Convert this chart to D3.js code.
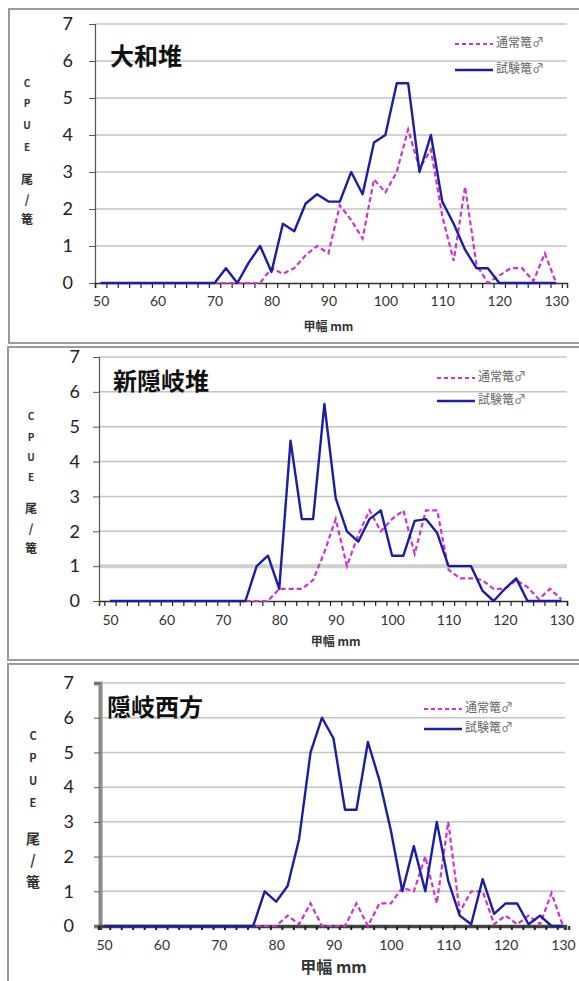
<!DOCTYPE html>
<html>
<head>
<meta charset="utf-8">
<script src="https://cdn.jsdelivr.net/npm/d3@7"></script>
<style>
  body { margin: 0; background: #fff; }
  svg { display: block; }
</style>
</head>
<body>
<script>
let width = 579;
let height = 981;

// carapace width classes (mm)
const sizes = [50, 52, 54, 56, 58, 60, 62, 64, 66, 68, 70, 72, 74, 76, 78, 80, 82, 84, 86, 88, 90,
  92, 94, 96, 98, 100, 102, 104, 106, 108, 110, 112, 114, 116, 118, 120, 122, 124, 126, 128, 130];
const xTickLabels = [50, 60, 70, 80, 90, 100, 110, 120, 130];
const yTickLabels = [0, 1, 2, 3, 4, 5, 6, 7];
const seriesNames = ["通常篭♂", "試験篭♂"];
const panelTitles = ["大和堆", "新隠岐堆", "隠岐西方"];

// 大和堆
const yamatoNormal = [0, 0, 0, 0, 0, 0, 0, 0, 0, 0, 0, 0, 0, 0, 0,
  0.4, 0.25, 0.4, 0.75, 1.0, 0.8, 2.1, 1.7, 1.2, 2.8, 2.45, 3.0, 4.15, 3.1, 3.6,
  1.8, 0.6, 2.6, 0.5, 0, 0.2, 0.4, 0.4, 0.05, 0.8, 0];
const yamatoTrial = [0, 0, 0, 0, 0, 0, 0, 0, 0, 0, 0,
  0.4, 0, 0.55, 1.0, 0.3, 1.6, 1.4, 2.15, 2.4, 2.2, 2.2, 3.0, 2.4, 3.8, 4.0, 5.4, 5.4,
  3.0, 4.0, 2.2, 1.6, 0.9, 0.4, 0.4, 0, 0, 0, 0, 0, 0];

// 新隠岐堆
const shinOkiNormal = [0, 0, 0, 0, 0, 0, 0, 0, 0, 0, 0, 0, 0, 0, 0,
  0.35, 0.35, 0.35, 0.6, 1.4, 2.35, 1.0, 1.9, 2.6, 2.0, 2.35, 2.6, 1.35, 2.6, 2.6,
  0.9, 0.65, 0.65, 0.6, 0.35, 0.35, 0.6, 0.4, 0.05, 0.35, 0.05];
const shinOkiTrial = [0, 0, 0, 0, 0, 0, 0, 0, 0, 0, 0, 0, 0,
  1.0, 1.3, 0.35, 4.6, 2.35, 2.35, 5.65, 2.95, 2.0, 1.7, 2.35, 2.6, 1.3, 1.3, 2.3,
  2.35, 1.95, 1.0, 1.0, 1.0, 0.3, 0, 0.35, 0.65, 0, 0, 0, 0];

// 隠岐西方
const okiWestNormal = [0, 0, 0, 0, 0, 0, 0, 0, 0, 0, 0, 0, 0, 0, 0, 0,
  0.3, 0.05, 0.65, 0, 0, 0, 0.65, 0, 0.65, 0.65, 1.1, 1.0, 2.0, 0.65, 3.0,
  0.4, 1.0, 1.0, 0.05, 0.3, 0.05, 0.3, 0.05, 0.95, 0];
const okiWestTrial = [0, 0, 0, 0, 0, 0, 0, 0, 0, 0, 0, 0, 0, 0,
  1.0, 0.7, 1.15, 2.5, 5.0, 6.0, 5.4, 3.35, 3.35, 5.3, 4.2, 2.75, 1.0, 2.3, 1.0,
  3.0, 1.3, 0.3, 0.05, 1.35, 0.35, 0.65, 0.65, 0.05, 0.3, 0, 0];

const normalColor = "#cc33cc";
const trialColor = "#1c1ca6";

// layout of the three pasted panels
const panels = [
  {
    title: panelTitles[0], normal: yamatoNormal, trial: yamatoTrial,
    frame: [9, 9, 600, 334],
    left: 95, right: 567, top: 24, bottom: 283, xDomain: [49.0, 131.9],
    yLabelX: 73, titleXY: [110, 58],
    legendX: 455, legendY: [44, 70],
    xLabelY: 296, xTitleY: 328, xTitleSize: 12,
    ytitleX: 27, ytitleY: [84, 104, 126, 148, 181, 201, 221], ytitleSize: [10, 12],
    heavy: false, thickGrid: null
  },
  {
    title: panelTitles[1], normal: shinOkiNormal, trial: shinOkiTrial,
    frame: [8, 347, 600, 313],
    left: 99, right: 567, top: 357, bottom: 601, xDomain: [48.05, 131],
    yLabelX: 80, titleXY: [113, 383],
    legendX: 437, legendY: [378, 401],
    xLabelY: 615, xTitleY: 643, xTitleSize: 12,
    ytitleX: 31, ytitleY: [417, 438, 458, 478, 510, 530, 550], ytitleSize: [10, 12],
    heavy: false, thickGrid: 1
  },
  {
    title: panelTitles[2], normal: okiWestNormal, trial: okiWestTrial,
    frame: [8, 664, 600, 340],
    left: 100, right: 565, top: 683, bottom: 926, xDomain: [49.3, 130.35],
    yLabelX: 74, titleXY: [107, 709],
    legendX: 424, legendY: [709, 729],
    xLabelY: 940, xTitleY: 969, xTitleSize: 16,
    ytitleX: 33, ytitleY: [737, 759, 782, 804, 840, 861, 883], ytitleSize: [11, 14],
    heavy: true, thickGrid: null
  }
];

const svg = d3.select("body")
  .append("svg")
  .attr("width", width)
  .attr("height", height)
  .attr("viewBox", [0, 0, width, height]);

panels.forEach(drawPanel);

function drawPanel(p) {
  const g = svg.append("g");

  // frame of the pasted screenshot
  g.append("rect")
    .attr("x", p.frame[0])
    .attr("y", p.frame[1])
    .attr("width", p.frame[2])
    .attr("height", p.frame[3])
    .attr("fill", "none")
    .attr("stroke", "#9a9a9a")
    .attr("stroke-width", 2);

  const x = d3.scaleLinear().domain(p.xDomain).range([p.left, p.right]);
  const y = d3.scaleLinear().domain([0, 7]).range([p.bottom, p.top]);

  // gridlines
  g.append("g")
    .selectAll("line")
    .data(yTickLabels.filter(d => d > 0))
    .join("line")
    .attr("x1", p.left)
    .attr("x2", p.right)
    .attr("y1", d => y(d))
    .attr("y2", d => y(d))
    .attr("stroke", d => d === p.thickGrid ? "#d0d0d0" : "#c4c4c4")
    .attr("stroke-width", d => d === p.thickGrid ? 4 : 1.5);

  // y axis
  g.append("g")
    .attr("transform", `translate(${p.left},0)`)
    .call(d3.axisLeft(y)
      .tickValues(yTickLabels)
      .tickFormat(d3.format("d"))
      .tickSize(6)
      .tickPadding(p.left - p.yLabelX - 6))
    .call(a => a.select(".domain")
      .attr("stroke", p.heavy ? "#8a8a8a" : "#555")
      .attr("stroke-width", p.heavy ? 4 : 1.2))
    .call(a => a.selectAll(".tick line").attr("stroke", "#555"))
    .call(a => a.selectAll(".tick text")
      .attr("font-family", "Lato, 'Open Sans', sans-serif")
      .attr("font-size", 18)
      .attr("fill", "#222"));

  // x axis: minor ticks between categories
  const minor = sizes.map(d => d - 1).concat([sizes[sizes.length - 1] + 1]);
  g.append("g")
    .attr("transform", `translate(0,${p.bottom})`)
    .call(d3.axisBottom(x).tickValues(minor).tickSize(p.heavy ? 4 : 5).tickFormat(""))
    .call(a => a.select(".domain")
      .attr("stroke", p.heavy ? "#444" : "#333")
      .attr("stroke-width", p.heavy ? 3.5 : 1.5))
    .call(a => a.selectAll(".tick line")
      .attr("stroke", "#222")
      .attr("stroke-width", p.heavy ? 2 : 1.2));

  g.append("g")
    .attr("transform", `translate(0,${p.bottom})`)
    .call(d3.axisBottom(x).tickValues(xTickLabels).tickSize(0).tickPadding(p.xLabelY - p.bottom))
    .call(a => a.select(".domain").remove())
    .call(a => a.selectAll(".tick text")
      .attr("font-family", "Lato, 'Open Sans', sans-serif")
      .attr("font-size", 14)
      .attr("fill", "#333"));

  g.append("text")
    .attr("x", x(90))
    .attr("y", p.xTitleY)
    .attr("text-anchor", "middle")
    .attr("dominant-baseline", "middle")
    .attr("font-family", "'Noto Sans CJK JP', sans-serif")
    .attr("font-weight", "bold")
    .attr("font-size", p.xTitleSize)
    .attr("fill", "#333")
    .text("甲幅 mm");

  // y axis title, stacked vertically
  const yTitleChars = ["C", "P", "U", "E", "尾", "/", "篭"];
  g.append("g")
    .selectAll("text")
    .data(yTitleChars)
    .join("text")
    .attr("x", p.ytitleX)
    .attr("y", (d, i) => p.ytitleY[i])
    .attr("text-anchor", "middle")
    .attr("dominant-baseline", "middle")
    .attr("font-family", "'Noto Sans CJK JP', sans-serif")
    .attr("font-weight", "bold")
    .attr("font-size", (d, i) => i < 4 ? p.ytitleSize[0] : p.ytitleSize[1])
    .attr("fill", "#333")
    .text(d => d);

  // lines
  const line = d3.line()
    .x((d, i) => x(sizes[i]))
    .y(d => y(d));

  g.append("path")
    .datum(p.normal)
    .attr("fill", "none")
    .attr("stroke", normalColor)
    .attr("stroke-width", 2.2)
    .attr("stroke-dasharray", "5,3")
    .attr("d", line);

  g.append("path")
    .datum(p.trial)
    .attr("fill", "none")
    .attr("stroke", trialColor)
    .attr("stroke-width", 2.4)
    .attr("stroke-linejoin", "round")
    .attr("d", line);

  // title
  g.append("text")
    .attr("x", p.titleXY[0])
    .attr("y", p.titleXY[1])
    .attr("dominant-baseline", "middle")
    .attr("font-family", "'Noto Sans CJK JP', sans-serif")
    .attr("font-weight", "bold")
    .attr("font-size", 24)
    .attr("fill", "#111")
    .text(p.title);

  // legend
  const legend = g.append("g");
  [normalColor, trialColor].forEach((c, i) => {
    legend.append("line")
      .attr("x1", p.legendX)
      .attr("x2", p.legendX + 38)
      .attr("y1", p.legendY[i])
      .attr("y2", p.legendY[i])
      .attr("stroke", c)
      .attr("stroke-width", i === 0 ? 2 : 2.4)
      .attr("stroke-dasharray", i === 0 ? "4,3" : null);
    legend.append("text")
      .attr("x", p.legendX + 41)
      .attr("y", p.legendY[i])
      .attr("dominant-baseline", "middle")
      .attr("font-family", "'Noto Sans CJK JP', sans-serif")
      .attr("font-size", 12)
      .attr("fill", "#666")
      .text(seriesNames[i]);
  });
}
</script>
</body>
</html>
